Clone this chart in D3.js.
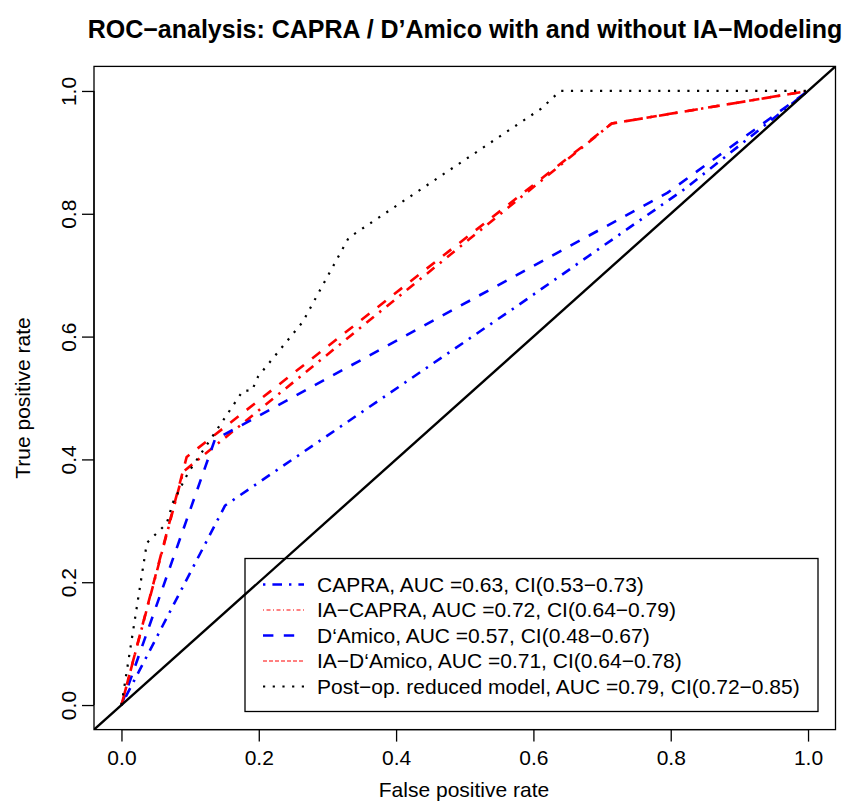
<!DOCTYPE html>
<html><head><meta charset="utf-8">
<script src="https://cdn.jsdelivr.net/npm/d3@7"></script>
<style>body{margin:0;background:#fff;} text{font-family:"Liberation Sans",Arial,Helvetica,sans-serif;}</style>
</head><body>
<svg id="c" width="856" height="803"></svg>
<script>
// ---- data ----
const titleText = "ROC\u2212analysis: CAPRA / D\u2019Amico with and without IA\u2212Modeling";
const xTicks = [0, 0.2, 0.4, 0.6, 0.8, 1.0];
const yTicks = [0, 0.2, 0.4, 0.6, 0.8, 1.0];
const fprCAPRA = [0, 0.151, 0.57, 0.82, 1];
const tprCAPRA = [0, 0.325, 0.645, 0.84, 1];
const fprIACAPRA = [0, 0.09, 0.714, 1];
const tprIACAPRA = [0, 0.38, 0.947, 1];
const fprDAmico = [0, 0.136, 0.795, 1];
const tprDAmico = [0, 0.432, 0.834, 1];
const fprIADAmico = [0, 0.095, 0.714, 1];
const tprIADAmico = [0, 0.404, 0.947, 1];
const fprPostOp = [0, 0.037, 0.066, 0.075, 0.097, 0.177, 0.190, 0.199, 0.264, 0.331, 0.611, 0.639, 1];
const tprPostOp = [0, 0.264, 0.296, 0.33, 0.378, 0.512, 0.512, 0.535, 0.624, 0.761, 0.971, 1.0, 1];
const legendLabels = [
  "CAPRA, AUC =0.63, CI(0.53\u22120.73)",
  "IA\u2212CAPRA, AUC =0.72, CI(0.64\u22120.79)",
  "D\u2018Amico, AUC =0.57, CI(0.48\u22120.67)",
  "IA\u2212D\u2018Amico, AUC =0.71, CI(0.64\u22120.78)",
  "Post\u2212op. reduced model, AUC =0.79, CI(0.72\u22120.85)"
];

// ---- styles ----
const series = [
  {fpr: fprCAPRA, tpr: tprCAPRA, color: "#0000ff", w: 2.6, dash: "2.4,7,9.6,7", lw: 2.6, ldash: "2.4,7,9.6,7"},
  {fpr: fprIACAPRA, tpr: tprIACAPRA, color: "#ff0000", w: 2.6, dash: "2.4,7,9.6,7", lw: 1, ldash: "1,2.5,4,2.5"},
  {fpr: fprDAmico, tpr: tprDAmico, color: "#0000ff", w: 2.6, dash: "10.4,10.4", lw: 2.6, ldash: "10.4,10.4"},
  {fpr: fprIADAmico, tpr: tprIADAmico, color: "#ff0000", w: 2.6, dash: "10.4,10.4", lw: 1, ldash: "4,2"},
  {fpr: fprPostOp, tpr: tprPostOp, color: "#000000", w: 2.2, dash: "2.2,7.5", lw: 2.2, ldash: "2.2,7.5"}
];

const FS = 21;
const svg = d3.select("#c");
const x = d3.scaleLinear().domain([-0.04, 1.04]).range([94, 835.5]);
const y = d3.scaleLinear().domain([-0.04, 1.04]).range([729.6, 66.4]);

svg.append("defs").append("clipPath").attr("id", "clip")
  .append("rect").attr("x", 94).attr("y", 66.4).attr("width", 741.5).attr("height", 663.2);

const plot = svg.append("g").attr("clip-path", "url(#clip)");
const line = d3.line().x(d => x(d[0])).y(d => y(d[1]));

series.forEach(s => {
  plot.append("path")
    .attr("d", line(s.fpr.map((v, i) => [v, s.tpr[i]])))
    .attr("fill", "none").attr("stroke", s.color)
    .attr("stroke-width", s.w).attr("stroke-dasharray", s.dash)
    .attr("stroke-linejoin", "round");
});

// diagonal
plot.append("path").attr("d", line([[-0.04, -0.04], [1.04, 1.04]]))
  .attr("stroke", "#000").attr("stroke-width", 2.4).attr("fill", "none");

// box
svg.append("rect").attr("x", 94).attr("y", 66.4).attr("width", 741.5).attr("height", 663.2)
  .attr("fill", "none").attr("stroke", "#000").attr("stroke-width", 1.3);

// x axis
const xAxis = d3.axisBottom(x).tickValues(xTicks).tickFormat(d3.format(".1f")).tickSize(12).tickPadding(8);
const gx = svg.append("g").attr("transform", "translate(0,729.6)").call(xAxis);
gx.select(".domain").attr("d", `M${x(0)},0H${x(1)}`).attr("stroke-width", 1.3);
gx.selectAll(".tick line").attr("stroke-width", 1.3);
gx.selectAll("text").attr("font-size", FS).attr("fill", "#000")
  .style("font-family", '"Liberation Sans",Arial,sans-serif');

// y axis
const yAxis = d3.axisLeft(y).tickValues(yTicks).tickFormat(d3.format(".1f")).tickSize(12).tickPadding(6);
const gy = svg.append("g").attr("transform", "translate(94,0)").call(yAxis);
gy.select(".domain").attr("d", `M0,${y(0)}V${y(1)}`).attr("stroke-width", 1.3);
gy.selectAll(".tick line").attr("stroke-width", 1.3);
gy.selectAll("text").attr("font-size", FS).attr("fill", "#000")
  .style("font-family", '"Liberation Sans",Arial,sans-serif')
  .attr("x", null).attr("dy", null)
  .attr("text-anchor", "middle")
  .attr("transform", "translate(-18,0) rotate(-90)");

// axis titles
svg.append("text").attr("x", 464).attr("y", 797).attr("text-anchor", "middle")
  .attr("font-size", FS).text("False positive rate");
svg.append("text").attr("transform", "translate(30,398) rotate(-90)").attr("text-anchor", "middle")
  .attr("font-size", FS).text("True positive rate");

// title
svg.append("text").attr("x", 465).attr("y", 38).attr("text-anchor", "middle")
  .attr("font-size", 25).attr("font-weight", "bold").text(titleText);

// legend
const lg = svg.append("g");
lg.append("rect").attr("x", 245).attr("y", 558.5).attr("width", 573).attr("height", 153)
  .attr("fill", "none").attr("stroke", "#000").attr("stroke-width", 1.3);
legendLabels.forEach((lab, i) => {
  const cy = 584.5 + i * 25.5;
  const s = series[i];
  lg.append("line").attr("x1", 263).attr("x2", 304).attr("y1", cy).attr("y2", cy)
    .attr("stroke", s.color).attr("stroke-width", s.lw).attr("stroke-dasharray", s.ldash);
  lg.append("text").attr("x", 317).attr("y", cy).attr("dy", "0.35em")
    .attr("font-size", FS).text(lab);
});
</script>
</body></html>
